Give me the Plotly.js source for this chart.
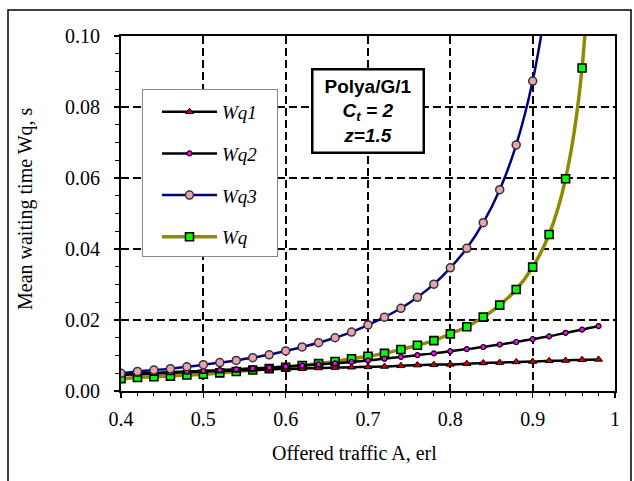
<!DOCTYPE html>
<html>
<head>
<meta charset="utf-8">
<script src="https://cdn.plot.ly/plotly-3.0.1.min.js"></script>
<style>html,body{margin:0;padding:0;background:#fff;}#chart{width:634px;height:481px;}</style>
</head>
<body>
<div id="chart"></div>
<script>
// Offered traffic A, erl
const xA = [0.40,0.42,0.44,0.46,0.48,0.50,0.52,0.54,0.56,0.58,0.60,0.62,0.64,0.66,0.68,0.70,0.72,0.74,0.76,0.78,0.80,0.82,0.84,0.86,0.88,0.90,0.92,0.94,0.96,0.98];
const wq1 = [0.0045,0.0047,0.0049,0.0051,0.0053,0.0055,0.0056,0.0058,0.0059,0.0061,0.0062,0.0063,0.0065,0.0066,0.0067,0.0068,0.0069,0.0071,0.0073,0.0074,0.0075,0.0077,0.0079,0.0080,0.0082,0.0083,0.0085,0.0086,0.0088,0.0089];
const wq2 = [0.0047,0.0049,0.0051,0.0053,0.0055,0.0057,0.0059,0.0061,0.0064,0.0066,0.0069,0.0072,0.0075,0.0078,0.0082,0.0086,0.0091,0.0096,0.0101,0.0106,0.0112,0.0118,0.0124,0.0131,0.0138,0.0146,0.0154,0.0164,0.0173,0.0183];
// Wq3 continues above the plot (last point is off-scale)
const xWq3 = [0.40,0.42,0.44,0.46,0.48,0.50,0.52,0.54,0.56,0.58,0.60,0.62,0.64,0.66,0.68,0.70,0.72,0.74,0.76,0.78,0.80,0.82,0.84,0.86,0.88,0.90,0.92];
const wq3 = [0.0050,0.0055,0.0059,0.0063,0.0068,0.0074,0.0080,0.0086,0.0094,0.0102,0.0113,0.0124,0.0136,0.0150,0.0166,0.0186,0.0208,0.0233,0.0264,0.0301,0.0347,0.0402,0.0474,0.0567,0.0693,0.0873,0.114];
const wq = [0.0035,0.0038,0.0040,0.0042,0.0045,0.0047,0.0051,0.0055,0.0059,0.0063,0.0067,0.0072,0.0077,0.0083,0.0091,0.0098,0.0106,0.0117,0.0129,0.0142,0.0161,0.0181,0.0208,0.0242,0.0286,0.0349,0.0441,0.0598,0.0910,0.185];
const seriesNames = ['Wq1','Wq2','Wq3','Wq'];
const xTicks = [0.4,0.5,0.6,0.7,0.8,0.9,1];
const yTicks = [0,0.02,0.04,0.06,0.08,0.10];

const serif = 'Liberation Serif';
const sans = 'Liberation Sans';
const pad = '&nbsp;&nbsp;&nbsp;';

const traces = [
  {x:xA, y:wq, name:'<i>'+seriesNames[3]+'</i>'+pad, mode:'lines+markers', legendgroup:'d', legendrank:4,
   line:{color:'#8c8c00', width:3.5, shape:'spline', smoothing:1},
   marker:{symbol:'square', size:8, color:'#00ff00', line:{color:'#000', width:1.6}}},
  {x:xA, y:wq1, name:'<i>'+seriesNames[0]+'</i>'+pad, mode:'lines+markers', legendgroup:'a', legendrank:1,
   line:{color:'#000', width:2.5, shape:'spline', smoothing:1},
   marker:{symbol:'triangle-up', size:7, color:'#cc0000', line:{color:'#000', width:1}}},
  {x:xA, y:wq2, name:'<i>'+seriesNames[1]+'</i>'+pad, mode:'lines+markers', legendgroup:'b', legendrank:2,
   line:{color:'#000', width:2.5, shape:'spline', smoothing:1},
   marker:{symbol:'circle', size:5, color:'#ff00ff', line:{color:'#000', width:1.2}}},
  {x:xWq3, y:wq3, name:'<i>'+seriesNames[2]+'</i>'+pad, mode:'lines+markers', legendgroup:'c', legendrank:3,
   line:{color:'#000080', width:2.5, shape:'spline', smoothing:1},
   marker:{symbol:'circle', size:8, color:'#e8a3b3', line:{color:'#333', width:1.5}}}
];

const layout = {
  width:634, height:481,
  margin:{l:121, r:19, t:36, b:90},
  paper_bgcolor:'#fff', plot_bgcolor:'#fff',
  showlegend:true,
  legend:{x:0.0425, y:0.85, xanchor:'left', yanchor:'top', bgcolor:'#fff',
    bordercolor:'#888', borderwidth:1, traceorder:'grouped', tracegroupgap:14,
    indentation:14,
    title:{text:'&nbsp;', font:{size:2}},
    font:{family:serif, size:19, color:'#000'}, itemwidth:55},
  xaxis:{range:[0.4,1], tickvals:xTicks, ticktext:xTicks.map(v=>String(v)),
    showgrid:true, gridcolor:'#000', gridwidth:2, griddash:'8px,4px',
    showline:true, linecolor:'#000', linewidth:2, mirror:true, zeroline:false,
    ticks:'outside', ticklen:5, tickwidth:1.5, tickcolor:'#000', ticklabelstandoff:4,
    minor:{dtick:0.02, ticks:'outside', ticklen:3, tickwidth:1, tickcolor:'#000', showgrid:false},
    tickfont:{family:serif, size:20, color:'#000'}},
  yaxis:{range:[0,0.10], tickvals:yTicks, ticktext:yTicks.map(v=>v.toFixed(2)),
    showgrid:true, gridcolor:'#000', gridwidth:2, griddash:'8px,4px',
    showline:true, linecolor:'#000', linewidth:2, mirror:true, zeroline:false,
    ticks:'outside', ticklen:5, tickwidth:1.5, tickcolor:'#000', ticklabelstandoff:10,
    minor:{dtick:0.005, ticks:'outside', ticklen:4, tickwidth:1, tickcolor:'#000', showgrid:false},
    tickfont:{family:serif, size:20, color:'#000'}},
  shapes:[
    {type:'rect', xref:'paper', yref:'paper', x0:(8-121)/494, x1:(631-121)/494,
     y0:(391-490)/355, y1:(391-10)/355, line:{color:'#000', width:1.5}, fillcolor:'rgba(0,0,0,0)', layer:'below'}
  ],
  annotations:[
    {xref:'paper', yref:'paper', x:(354-121)/494, y:(391-453)/355, xanchor:'center', yanchor:'middle',
     text:'Offered traffic A, erl', showarrow:false, font:{family:serif, size:20, color:'#000'}},
    {xref:'paper', yref:'paper', x:(25-121)/494, y:(391-209)/355, xanchor:'center', yanchor:'middle',
     text:'Mean waiting time Wq, s', textangle:-90, showarrow:false, font:{family:serif, size:20, color:'#000'}},
    {xref:'paper', yref:'paper', x:0.5, y:(391-110.5)/355, xanchor:'center', yanchor:'middle',
     text:'<b>Polya/G/1</b><br><b><i>C<sub>t</sub> = 2</i></b><br><b><i>z=1.5</i></b>',
     showarrow:false, bgcolor:'#fff', bordercolor:'#000', borderwidth:2.5, borderpad:3,
     width:103, height:75, align:'center', font:{family:sans, size:19, color:'#000'}}
  ]
};

Plotly.newPlot('chart', traces, layout, {displayModeBar:false, staticPlot:true});
</script>
</body>
</html>
